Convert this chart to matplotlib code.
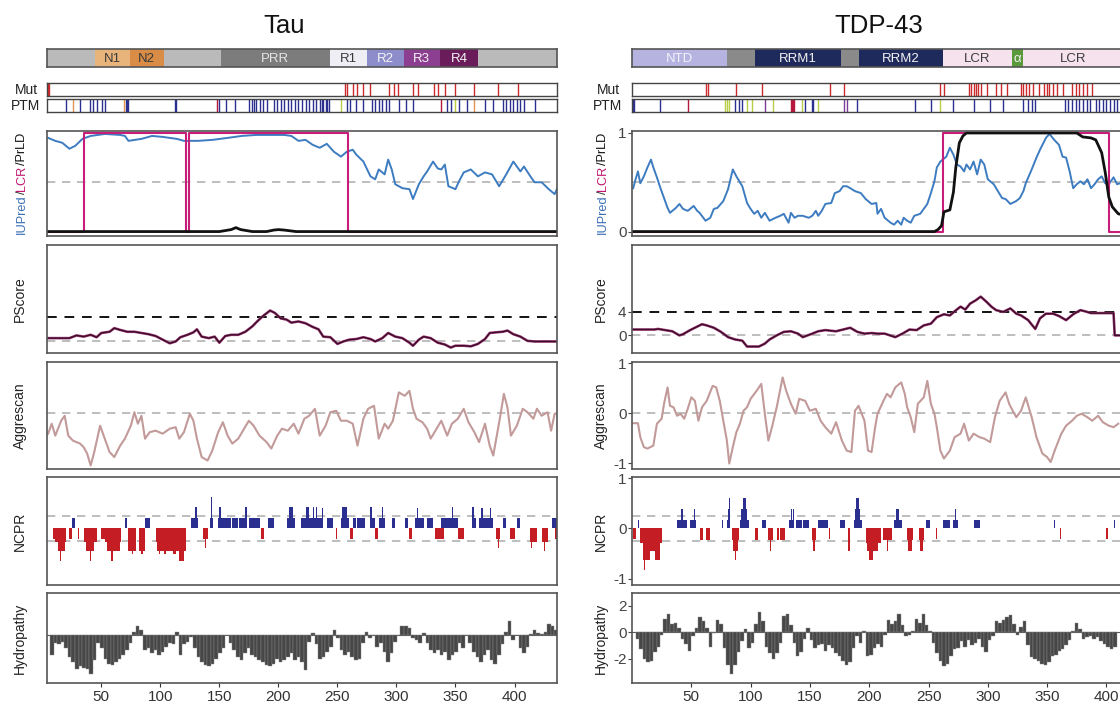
import numpy as np
import matplotlib
matplotlib.use("Agg")
import matplotlib.pyplot as plt

plt.rcParams['font.family'] = ['Liberation Sans', 'DejaVu Sans']

# ------------------------------------------------------------------ data
titles = ['Tau', 'TDP-43']
xlims = {'tau': (4, 436), 'tdp': (0, 430)}
x_ticks = [50, 100, 150, 200, 250, 300, 350, 400]

# domains (start, end, label, fill colour, text colour)
tau_domains = [(0, 45, '', '#bababa', '#333333'), (45, 74, 'N1', '#e9b47c', '#3a3a3a'),
               (74, 103, 'N2', '#d98c45', '#3a3a3a'), (103, 151, '', '#bababa', '#333333'),
               (151, 244, 'PRR', '#7c7c7c', '#e6e6e6'), (244, 275, 'R1', '#efeef5', '#3a3a3a'),
               (275, 306, 'R2', '#8d8dcb', '#f4f4f4'), (306, 337, 'R3', '#8c3e90', '#f4f4f4'),
               (337, 369, 'R4', '#6a1b5a', '#f4f4f4'), (369, 441, '', '#bababa', '#333333')]
tdp_domains = [(0, 80, 'NTD', '#b7b3e1', '#f2f2fa'), (80, 104, '', '#8a8a8a', '#ffffff'),
               (104, 176, 'RRM1', '#1f2a5c', '#f2f2f2'), (176, 191, '', '#8a8a8a', '#ffffff'),
               (191, 262, 'RRM2', '#1f2a5c', '#f2f2f2'), (262, 320, 'LCR', '#f6e2ec', '#3a3a3a'),
               (320, 330, 'α', '#5b9a3c', '#f2f2f2'), (330, 414, 'LCR', '#f6e2ec', '#3a3a3a')]

tau_mut = [5, 6, 256, 258, 263, 267, 272, 278, 294, 298, 301, 314, 318, 332, 335, 341, 350, 366, 386, 403]
tdp_mut = [62, 64, 88, 110, 167, 179, 260, 263, 284, 286, 288, 290, 292, 294, 299, 307, 311, 316,
           328, 330, 332, 335, 338, 343, 347, 350, 352, 355, 358, 363, 371, 374, 377, 380, 384, 388]

tau_ptm_blue = [20, 32, 40, 43, 46, 51, 53, 71, 72, 73, 112, 113, 150, 156, 163, 175, 178, 179, 181,
                184, 187, 190, 196, 199, 202, 205, 208, 211, 214, 217, 220, 223, 226, 229, 232, 235,
                237, 238, 240, 241, 243, 258, 261, 266, 272, 279, 282, 285, 288, 291, 294, 302, 308,
                314, 343, 346, 353, 360, 375, 382, 390, 393, 396, 399, 402, 405, 408, 417]
tau_ptm_red = [148, 338]
tau_ptm_orange = [26, 69, 366]
tau_ptm_green = [253, 350]
tau_ptm_purple = []

tdp_ptm_blue = [1, 2, 24, 87, 90, 93, 146, 152, 153, 190, 239, 252, 271, 288, 302, 313, 330, 334,
                337, 340, 365, 368, 371, 374, 377, 380, 384, 386, 391, 394, 397, 400, 403, 406, 409]
tdp_ptm_red = [47, 134, 135, 136, 137]
tdp_ptm_orange = []
tdp_ptm_green = [78, 80, 82, 97, 101, 119, 143, 157, 260]
tdp_ptm_purple = [112, 179, 181]

# IUPred (residue, score)
tau_iupred = [(5, .95), (11, .92), (17, .90), (23, .84), (28, .87), (34, .94), (41, .97), (47, .98),
              (53, .99), (66, .98), (70, .97), (73, .92), (84, .94), (93, .97), (102, .96), (114, .94),
              (120, .92), (132, .92), (144, .93), (157, .95), (169, .97), (181, .98), (193, .98),
              (205, .98), (211, .97), (217, .92), (223, .93), (229, .88), (235, .85), (241, .89),
              (247, .81), (253, .76), (258, .81), (263, .83), (266, .78), (272, .71), (278, .56),
              (282, .53), (285, .63), (290, .58), (293, .73), (296, .63), (299, .48), (305, .44),
              (311, .43), (314, .33), (319, .48), (323, .56), (326, .61), (331, .71), (335, .64),
              (338, .63), (341, .68), (344, .46), (350, .43), (353, .51), (357, .60), (363, .63),
              (369, .56), (375, .60), (381, .58), (387, .46), (393, .58), (399, .71), (402, .66),
              (405, .61), (408, .66), (414, .55), (417, .50), (423, .50), (429, .43), (434, .38),
              (437, .46)]
tdp_iupred = [(1, .44), (3, .53), (5, .61), (7, .49), (10, .56), (13, .65), (16, .73), (18, .65),
              (21, .55), (24, .44), (27, .34), (30, .24), (32, .19), (37, .24), (40, .28), (43, .23),
              (47, .21), (52, .26), (55, .21), (57, .19), (62, .11), (66, .14), (69, .23), (72, .24),
              (77, .31), (81, .43), (85, .63), (88, .56), (93, .46), (97, .29), (100, .23), (103, .18),
              (106, .21), (109, .14), (112, .19), (116, .11), (121, .14), (125, .16), (128, .18),
              (132, .09), (134, .19), (137, .14), (140, .16), (144, .16), (149, .14), (152, .16),
              (155, .21), (157, .16), (160, .21), (163, .28), (168, .29), (171, .39), (175, .41),
              (178, .46), (181, .46), (184, .44), (188, .41), (193, .39), (197, .33), (202, .28),
              (206, .29), (207, .18), (210, .23), (213, .14), (218, .09), (221, .07), (224, .11),
              (227, .07), (229, .14), (232, .11), (235, .09), (238, .16), (243, .18), (246, .23),
              (249, .28), (252, .39), (255, .51), (257, .65), (260, .71), (265, .76), (268, .85),
              (271, .78), (274, .68), (277, .66), (280, .61), (282, .68), (285, .63), (288, .71),
              (291, .58), (294, .73), (297, .68), (300, .53), (305, .48), (307, .44), (312, .34),
              (315, .33), (319, .28), (324, .31), (327, .34), (330, .41), (332, .49), (337, .63),
              (341, .75), (344, .83), (349, .95), (352, .99), (356, .93), (360, .88), (363, .76),
              (366, .75), (369, .61), (372, .44), (375, .48), (378, .51), (381, .48), (384, .53),
              (387, .44), (390, .48), (393, .53), (396, .56), (399, .49), (402, .48), (406, .55),
              (409, .48), (414, .50)]

# LCR regions and PrLD score
tau_lcr = [(35, 122), (124, 259)]
tdp_lcr = [(262, 402)]
tau_prld = [(4, 0), (150, 0), (160, .02), (164, .04), (168, .02), (178, 0), (190, 0), (196, .015),
            (200, .02), (205, .015), (215, 0), (436, 0)]
tdp_prld = [(0, 0), (255, 0), (258, .02), (261, .06), (263, .2), (268, .22), (271, .4), (273, .65),
            (276, .9), (279, .97), (282, 1.0), (300, 1.0), (375, 1.0), (380, .96), (387, .95),
            (391, .93), (396, .8), (399, .6), (402, .35), (405, .25), (410, .18), (414, .17)]

# PScore
tau_pscore = [(5, .55), (23, .55), (29, 1.0), (35, .8), (41, 1.1), (46, .7), (50, 1.4), (57, 1.6),
              (61, 2.2), (66, 1.9), (72, 1.6), (78, 1.6), (84, 1.4), (90, 1.2), (96, .9), (102, .3),
              (108, -.3), (113, 0), (117, .7), (123, 1.1), (128, 1.5), (131, 2.0), (135, .8),
              (141, .55), (146, .8), (150, -.2), (155, .9), (160, 1.1), (166, 1.1), (172, 1.6),
              (178, 2.5), (182, 3.3), (187, 4.2), (193, 5.1), (197, 4.7), (202, 3.8), (207, 3.6),
              (211, 3.1), (217, 3.3), (223, 3.0), (229, 2.4), (234, 2.0), (238, .8), (244, .7),
              (250, -.4), (255, 0), (260, .3), (266, .4), (272, .7), (278, .4), (282, 0), (288, .55),
              (293, 1.4), (299, .8), (305, .55), (311, -.2), (314, -.7), (319, .3), (323, .8),
              (329, .55), (335, -.2), (341, -.5), (346, -1.0), (350, -.7), (357, -.7), (363, -.8),
              (369, -.4), (375, .4), (379, 1.4), (384, 1.5), (390, 1.6), (394, 1.8), (399, 1.2),
              (405, .8), (411, .1), (417, 0), (437, 0)]
tdp_pscore = [(1, 1.0), (19, 1.0), (22, 1.1), (28, .9), (34, .7), (40, 0), (43, .2), (49, .9),
              (55, 1.5), (59, 1.9), (63, 1.7), (69, 1.3), (75, .6), (81, -.3), (87, -.7), (93, -.9),
              (97, -1.9), (102, -1.9), (107, -1.9), (112, -1.4), (116, -.7), (122, 0), (128, .6),
              (134, .7), (140, .3), (144, -.3), (152, .3), (157, .7), (163, .9), (172, .7),
              (178, 1.0), (184, 1.3), (190, .6), (196, .3), (202, .4), (207, .3), (213, .3),
              (222, -.3), (228, .3), (234, 1.0), (240, .9), (246, 1.7), (252, 2.0), (257, 3.1),
              (263, 3.6), (268, 3.4), (272, 4.1), (277, 4.9), (281, 4.4), (285, 5.4), (290, 6.0),
              (294, 6.6), (299, 5.7), (303, 4.9), (307, 4.3), (313, 4.0), (319, 4.6), (324, 3.7),
              (328, 3.4), (334, 2.6), (340, 1.1), (344, 2.9), (349, 3.7), (355, 3.7), (360, 3.3),
              (366, 2.6), (372, 3.6), (378, 4.3), (382, 4.1), (387, 3.8), (396, 3.8), (406, 3.8),
              (407, 0), (414, 0)]

# Aggrescan
tau_aggrescan = [(5, -.41), (8, -.21), (11, -.45), (16, -.15), (19, -.05), (22, -.45), (26, -.55),
                 (32, -.61), (35, -.68), (38, -.81), (41, -1.05), (44, -.78), (49, -.25), (52, -.45),
                 (57, -.78), (61, -.88), (66, -.65), (70, -.51), (75, -.25), (78, .02), (81, -.21),
                 (84, -.05), (87, -.51), (91, -.38), (96, -.35), (102, -.41), (108, -.31), (113, -.28),
                 (116, -.51), (120, -.38), (125, -.01), (128, -.15), (131, -.51), (135, -.88),
                 (140, -.95), (144, -.75), (149, -.38), (153, -.18), (157, -.45), (161, -.61),
                 (166, -.51), (170, -.35), (175, -.15), (179, -.25), (184, -.45), (190, -.58),
                 (194, -.71), (199, -.45), (203, -.31), (208, -.35), (213, -.21), (217, -.41),
                 (222, -.11), (226, -.05), (231, .09), (235, -.45), (240, -.25), (244, .02), (249, .05),
                 (253, -.15), (258, -.15), (263, -.21), (267, -.65), (272, -.11), (276, .09), (281, .15),
                 (285, -.51), (290, -.21), (293, -.31), (297, -.15), (302, .42), (307, .35), (311, .45),
                 (314, .09), (317, -.11), (322, -.18), (326, -.31), (329, -.51), (334, -.31),
                 (338, -.15), (343, -.45), (347, -.21), (352, -.11), (357, .09), (361, -.18),
                 (366, -.38), (370, -.58), (375, -.21), (379, -.65), (382, -.85), (385, -.45),
                 (388, -.05), (391, .39), (394, .12), (397, -.45), (402, -.25), (407, .09), (411, .02),
                 (416, -.11), (419, .09), (423, -.05), (428, .02), (431, -.35), (434, -.01), (437, 0)]
tdp_aggrescan = [(1, -.2), (5, -.2), (7, -.48), (10, -.68), (13, -.71), (18, -.65), (21, -.21),
                 (25, -.11), (27, .19), (30, .52), (32, .15), (35, .12), (38, -.05), (41, -.01),
                 (44, -.11), (47, .09), (50, .32), (53, .25), (56, -.15), (59, .12), (63, .25), (68, .55),
                 (71, .52), (74, .25), (77, -.15), (80, -.55), (82, -1.01), (85, -.68), (88, -.38),
                 (91, -.21), (94, .05), (97, .12), (100, .29), (105, .45), (109, .59), (112, -.01),
                 (115, -.55), (118, -.28), (122, .12), (127, .72), (130, .45), (134, .19), (138, -.01),
                 (141, .29), (146, .25), (150, .05), (155, .09), (159, -.15), (163, -.28), (168, -.41),
                 (172, -.18), (177, -.55), (181, -.75), (185, -.78), (188, .05), (191, .15), (196, -.15),
                 (199, -.75), (202, -.78), (205, -.28), (207, -.01), (212, .25), (215, .39), (218, .32),
                 (222, .52), (227, .62), (230, .39), (232, .12), (235, -.08), (238, -.38), (241, .19),
                 (246, .32), (249, .65), (252, .19), (255, -.01), (257, -.28), (260, -.75), (263, -.91),
                 (268, -.75), (272, -.48), (277, -.41), (280, -.21), (284, -.55), (288, -.41),
                 (293, -.48), (297, -.51), (302, -.58), (306, -.08), (310, .25), (315, .42), (318, .19),
                 (321, .05), (324, -.08), (328, .05), (332, .32), (337, -.08), (341, -.48), (346, -.81),
                 (350, -.88), (353, -.98), (357, -.71), (362, -.41), (366, -.25), (371, -.15),
                 (375, -.05), (379, -.01), (384, -.08), (388, -.15), (393, -.05), (397, -.18),
                 (402, -.25), (406, -.28), (410, -.21)]

# NCPR blocks (start, end, value)
tau_ncpr = [(9, 11, -.21), (11, 20, -.27), (13, 19, -.44), (15, 16, -.64), (23, 25, -.21), (30, 31, -.21),
            (35, 46, -.27), (37, 44, -.44), (40, 41, -.64), (50, 53, -.21), (53, 67, -.27), (55, 66, -.44),
            (58, 60, -.64), (73, 79, -.44), (76, 77, -.5), (82, 87, -.44), (84, 85, -.5),
            (96, 122, -.27), (97, 122, -.44), (99, 100, -.5), (103, 105, -.5), (111, 113, -.5),
            (116, 120, -.64), (136, 140, -.21), (138, 139, -.38), (185, 188, -.21), (249, 250, -.21),
            (261, 263, -.21), (282, 284, -.21), (311, 313, -.21), (333, 340, -.21), (352, 357, -.21),
            (384, 388, -.21), (386, 387, -.38), (396, 400, -.21), (413, 419, -.27), (414, 415, -.38),
            (423, 428, -.27), (425, 426, -.44), (434, 437, -.21),
            (25, 28, .21), (70, 72, .21), (87, 91, .21), (126, 132, .21), (129, 131, .43), (142, 145, .21),
            (143, 144, .63), (149, 160, .21), (150, 151, .43), (161, 166, .21), (167, 173, .21),
            (172, 173, .43), (175, 184, .21), (191, 196, .21), (207, 214, .21), (209, 212, .43),
            (219, 237, .21), (223, 226, .43), (229, 230, .43), (232, 233, .43), (237, 238, .4),
            (241, 246, .21), (253, 260, .21), (254, 258, .43), (263, 266, .21), (267, 273, .21),
            (278, 279, .43), (279, 282, .21), (285, 290, .21), (288, 289, .43), (296, 299, .21),
            (307, 310, .21), (316, 323, .21), (317, 318, .4), (326, 331, .21), (338, 352, .21),
            (347, 348, .43), (364, 367, .21), (364, 366, .43), (370, 382, .21), (372, 373, .4),
            (379, 380, .4), (390, 393, .21), (402, 405, .21), (432, 437, .21)]
tdp_ncpr = [(1, 3, -.21), (7, 25, -.28), (9, 24, -.44), (9, 15, -.63), (10, 11, -.83), (19, 24, -.63),
            (57, 60, -.23), (62, 66, -.23), (84, 90, -.23), (85, 89, -.44), (87, 88, -.63),
            (104, 106, -.23), (115, 119, -.23), (116, 117, -.44), (122, 124, -.23), (125, 129, -.23),
            (152, 155, -.23), (153, 154, -.44), (166, 167, -.21), (182, 184, -.44), (197, 210, -.28),
            (198, 207, -.44), (200, 203, -.63), (212, 219, -.23), (215, 216, -.44), (232, 237, -.23),
            (233, 236, -.44), (242, 246, -.23), (243, 245, -.44), (256, 257, -.21), (361, 362, -.21),
            (400, 401, -.21),
            (5, 6, .16), (38, 46, .16), (41, 43, .38), (49, 54, .16), (52, 53, .38), (76, 77, .16),
            (80, 83, .16), (81, 83, .38), (82, 83, .6), (91, 99, .16), (92, 97, .38), (94, 96, .6),
            (110, 113, .16), (132, 137, .16), (138, 143, .16), (144, 149, .16), (134, 135, .38),
            (136, 137, .38), (157, 165, .16), (175, 180, .16), (187, 194, .16), (188, 192, .38),
            (189, 191, .6), (221, 228, .16), (223, 225, .38), (248, 251, .16), (262, 268, .16),
            (271, 275, .16), (272, 273, .38), (288, 293, .16), (356, 357, .16), (406, 407, .16)]

# Hydropathy (window values read every ~3 residues)
tau_hydro_start, tau_hydro_step = 8, 3.03
tau_hydro = [-1.5, -0.6, -0.7, -0.5, -1.0, -1.7, -2.1, -2.6, -2.4, -2.5, -2.6, -3.0, -1.9, -0.6, -1.0,
             -1.8, -2.2, -2.3, -2.1, -1.8, -1.5, -1.1, -0.6, 0.3, 0.7, 0.4, -1.1, -1.0, -1.4, -1.1,
             -1.5, -1.3, -0.9, -0.6, -0.7, 0.3, -1.5, -0.7, -0.5, -0.1, -1.0, -1.7, -2.1, -2.3, -2.4,
             -2.2, -1.8, -1.4, -1.0, 0.05, -0.6, -1.1, -1.7, -1.9, -1.4, -1.0, -1.5, -1.7, -1.9, -2.1,
             -2.3, -2.4, -2.2, -1.8, -2.1, -1.9, -1.7, -1.4, -1.9, -1.7, -2.1, -2.7, -0.5, 0.2, -0.7,
             -1.8, -1.7, -1.3, -0.9, 0.45, -0.2, -1.1, -1.5, -1.3, -1.7, -1.9, -1.8, -0.6, 0.3, -0.2,
             0.05, -0.9, -0.6, -1.3, -2.1, -1.4, -0.5, 0.05, 0.7, 0.7, 0.6, -0.2, -0.35, -0.6, 0.2,
             -0.6, -1.1, -1.4, -1.1, -1.5, -1.3, -1.9, -1.5, -1.3, -0.6, -1.0, 0.05, -0.6, -1.3, -1.7,
             -2.1, -1.5, -1.1, -1.9, -2.2, -1.5, -0.7, 0.3, 1.1, -0.35, 0.0, -1.0, -1.4, -0.9, 0.1,
             0.45, 0.2, 0.1, 0.3, 0.85, 0.7, 0.45]
tdp_hydro_start, tdp_hydro_step = 4.5, 2.94
tdp_hydro = [-0.5, -1.3, -2.0, -2.3, -2.2, -1.5, -1.1, -0.2, 1.0, 1.4, 0.6, 0.7, 0.3, -0.5, -0.9, -1.4,
             -0.3, 0.3, 1.1, 0.8, 0.3, -1.1, -0.1, 0.9, 0.6, -1.2, -2.5, -3.2, -2.5, -1.5, -0.7, 0.2,
             -1.2, -0.8, 0.6, 1.5, 0.8, -1.1, -1.6, -2.0, -1.6, -0.8, 1.2, 1.4, 0.5, -0.8, -1.8, -1.5,
             -0.5, 0.3, -0.6, -1.2, -1.0, -0.9, -1.4, -1.0, -1.2, -1.6, -1.8, -2.2, -2.5, -2.3, -1.2,
             -0.3, -0.8, 0.1, -1.8, -1.7, -1.2, -0.9, -1.1, -0.2, 0.9, 0.6, 0.8, 1.4, 0.5, -0.3, -0.2,
             0.1, 1.0, 0.7, 1.4, 0.5, 0.1, -0.8, -1.6, -2.2, -2.6, -2.4, -1.8, -1.3, -1.2, -0.7, -1.1,
             -0.6, -1.0, -0.8, -0.5, -1.1, -1.5, -0.6, -0.3, 0.8, 0.7, 0.9, 1.1, 1.3, 0.6, -0.2, 0.4,
             0.8, -1.0, -1.9, -2.0, -2.2, -2.4, -2.5, -2.3, -1.8, -1.7, -1.4, -1.3, -1.0, -0.6, 0.1,
             0.7, 0.2, -0.5, -0.4, -0.3, -0.5, -0.4, -0.7, -0.9, -1.1, -1.3, -1.1]

# ------------------------------------------------------------------ layout / style
W, H = 1120, 709
fig = plt.figure(figsize=(W / 100, H / 100), dpi=100)

COL_LEFT = {'tau': 47, 'tdp': 632}
PANEL_W = 510
ROWS = {'dom': (49, 18), 'mut': (83, 13), 'ptm': (99, 13), 'iup': (131, 105), 'ps': (245, 108),
        'agg': (362, 107), 'ncpr': (477, 108), 'hyd': (593, 90)}
TITLE_X = {'tau': 284, 'tdp': 879}
YLAB_X = {'tau': 20, 'tdp': 601}
MUTLAB_X = {'tau': 26, 'tdp': 608}

FRAME = '#555555'
GREY_DASH = '#b3b3b3'
BLUE = '#2b2f8f'
RED = '#c41e24'
PTM_COLORS = {'blue': '#2b2f8f', 'red': '#b8163c', 'orange': '#e39455', 'green': '#b9cc45',
              'purple': '#7b3b9a'}


def add_ax(key, row):
    top, h = ROWS[row]
    left = COL_LEFT[key]
    ax = fig.add_axes([left / W, 1 - (top + h) / H, PANEL_W / W, h / H])
    ax.set_xlim(*xlims[key])
    for s in ax.spines.values():
        s.set_color(FRAME)
        s.set_linewidth(1.2)
        s.set_zorder(10)
    ax.tick_params(axis='both', length=0, labelsize=11, colors='#333333')
    ax.set_xticks([])
    ax.set_yticks([])
    return ax


def set_yticks(ax, key, ticks, labels=None):
    if key == 'tdp':
        ax.set_yticks(ticks)
        ax.set_yticklabels(labels if labels else [str(t) for t in ticks])
        ax.tick_params(axis='y', length=3, width=0.8, pad=1, labelsize=11, colors='#444444')


def dash(ax, y, color=GREY_DASH, lw=1.2):
    ax.axhline(y, color=color, lw=lw, ls=(0, (5, 4)), zorder=1)


def ylabel(key, row, text, fs=10):
    top, h = ROWS[row]
    fig.text(YLAB_X[key] / W, 1 - (top + h / 2) / H, text, rotation=90, ha='center', va='center',
             fontsize=fs, color='#222222')


def multicolor_ylabel(key, row, parts, fs=9.2):
    """Rotated label built from coloured pieces placed end to end, reading upward."""
    top, h = ROWS[row]
    r = fig.canvas.get_renderer()
    texts, lens = [], []
    for s, c in parts:
        t = fig.text(0, 0, s, color=c, fontsize=fs, rotation=0, ha='left', va='baseline')
        lens.append(t.get_window_extent(r).width)
        texts.append(t)
    base_x = YLAB_X[key] + 0.36 * fs * 100 / 72
    y = (H - (top + h / 2)) - sum(lens) / 2
    for t, ln in zip(texts, lens):
        t.set_rotation(90)
        t.set_rotation_mode('anchor')
        t.set_ha('left')
        t.set_va('baseline')
        t.set_position((base_x / W, y / H))
        y += ln


def steps(regions, x0, x1):
    xs, ys = [x0], [0]
    for a, b in regions:
        xs += [a, a, b, b]
        ys += [0, 1, 1, 0]
    xs.append(x1)
    ys.append(0)
    return xs, ys


data = {
    'tau': dict(domains=tau_domains, mut=tau_mut,
                ptm={'blue': tau_ptm_blue, 'red': tau_ptm_red, 'orange': tau_ptm_orange,
                     'green': tau_ptm_green, 'purple': tau_ptm_purple},
                iup=tau_iupred, lcr=tau_lcr, prld=tau_prld, ps=tau_pscore, agg=tau_aggrescan,
                ncpr=tau_ncpr, hyd=(tau_hydro_start, tau_hydro_step, tau_hydro),
                ps_ylim=(-1.9, 15.9), hyd_ylim=(-3.7, 3.3)),
    'tdp': dict(domains=tdp_domains, mut=tdp_mut,
                ptm={'blue': tdp_ptm_blue, 'red': tdp_ptm_red, 'orange': tdp_ptm_orange,
                     'green': tdp_ptm_green, 'purple': tdp_ptm_purple},
                iup=tdp_iupred, lcr=tdp_lcr, prld=tdp_prld, ps=tdp_pscore, agg=tdp_aggrescan,
                ncpr=tdp_ncpr, hyd=(tdp_hydro_start, tdp_hydro_step, tdp_hydro),
                ps_ylim=(-3.0, 15.4), hyd_ylim=(-3.85, 2.95)),
}

for key, title in zip(['tau', 'tdp'], titles):
    d = data[key]
    fig.text(TITLE_X[key] / W, 1 - 26 / H, title, fontsize=18.5, ha='center', va='center',
             color='#111111')

    # domain bar
    ax = add_ax(key, 'dom')
    ax.set_ylim(0, 1)
    for a, b, lab, fc, tc in d['domains']:
        ax.barh(0.5, b - a, left=a, height=1, color=fc, lw=0)
        if lab:
            ax.text((a + b) / 2, 0.47, lab, ha='center', va='center', fontsize=9.5, color=tc)

    # Mut / PTM
    ax = add_ax(key, 'mut')
    ax.set_ylim(0, 1)
    ax.vlines(d['mut'], 0, 1, color='#cc2a2a', lw=1.0)
    for s in ax.spines.values():
        s.set_color('#444444')
        s.set_linewidth(1.0)
    ax = add_ax(key, 'ptm')
    ax.set_ylim(0, 1)
    for cname, pos in d['ptm'].items():
        if pos:
            ax.vlines(pos, 0, 1, color=PTM_COLORS[cname], lw=1.0)
    for s in ax.spines.values():
        s.set_color('#444444')
        s.set_linewidth(1.0)
    for row, lab in [('mut', 'Mut'), ('ptm', 'PTM')]:
        top, h = ROWS[row]
        fig.text(MUTLAB_X[key] / W, 1 - (top + h / 2) / H, lab, ha='center', va='center',
                 fontsize=10, color='#222222')

    x0, x1 = xlims[key]

    # IUPred / LCR / PrLD
    ax = add_ax(key, 'iup')
    ax.set_ylim(-0.045, 1.02)
    dash(ax, 0.5)
    ix, iy = np.array(d['iup']).T
    ax.plot(ix, iy, color='#3d7cc0', lw=1.4, zorder=3)
    lx, ly = steps(d['lcr'], x0 - 5, x1 + 20)
    ax.plot(lx, ly, color='#c81d78', lw=1.5, zorder=4)
    px, py = np.array(d['prld']).T
    ax.plot(px, py, color='#111111', lw=2.0, zorder=5)
    set_yticks(ax, key, [0, 1])
    multicolor_ylabel(key, 'iup', [('IUPred', '#3b6fb6'), ('/', '#333333'), ('LCR', '#c0186e'),
                                   ('/PrLD', '#111111')])

    # PScore
    ax = add_ax(key, 'ps')
    ax.set_ylim(*d['ps_ylim'])
    dash(ax, 0)
    dash(ax, 4, color='#111111', lw=1.4)
    sx, sy = np.array(d['ps']).T
    ax.plot(sx, sy, color='#a0407a', lw=1.9, zorder=3)
    ax.plot(sx, sy, color='#3d0a28', lw=1.0, zorder=4)
    set_yticks(ax, key, [0, 4])
    ylabel(key, 'ps', 'PScore')

    # Aggrescan
    ax = add_ax(key, 'agg')
    ax.set_ylim(-1.12, 1.03)
    dash(ax, 0)
    gx, gy = np.array(d['agg']).T
    ax.plot(gx, gy, color='#c29a9a', lw=1.5, zorder=3)
    set_yticks(ax, key, [-1, 0, 1])
    ylabel(key, 'agg', 'Aggrescan')

    # NCPR
    ax = add_ax(key, 'ncpr')
    ax.set_ylim(-1.12, 1.02)
    dash(ax, 0.25)
    dash(ax, -0.25)
    for a, b, v in d['ncpr']:
        ax.bar(a, v, width=b - a, align='edge', color=BLUE if v > 0 else RED, lw=0, zorder=3)
    set_yticks(ax, key, [-1, 0, 1])
    ylabel(key, 'ncpr', 'NCPR')

    # Hydropathy
    ax = add_ax(key, 'hyd')
    ax.set_ylim(*d['hyd_ylim'])
    hs, hstep, hv = d['hyd']
    hx = hs + hstep * np.arange(len(hv))
    ax.bar(hx, hv, width=hstep, color='#474747', edgecolor='#8a8a8a', linewidth=0.3, zorder=3)
    ax.axhline(0, color='#555555', lw=0.8, zorder=2)
    set_yticks(ax, key, [-2, 0, 2])
    ax.set_xticks(x_ticks)
    ax.tick_params(axis='x', length=3, width=0.8, pad=2, labelsize=11, colors='#333333')
    ylabel(key, 'hyd', 'Hydropathy')

fig.savefig('out.png', dpi=100)
